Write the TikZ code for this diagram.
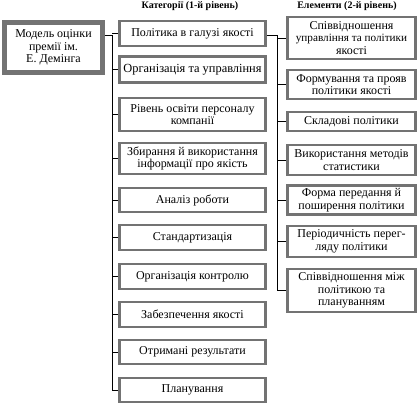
\documentclass[tikz,border=0pt]{standalone}
\usepackage{fontspec}
\setmainfont{Liberation Serif}
\definecolor{bordergray}{RGB}{115,115,115}
\begin{document}
\begin{tikzpicture}[x=1pt,y=-1pt,
  txt/.style={font=\fontsize{12}{12.5}\selectfont, align=center, inner sep=0pt},
  catbox/.style={txt, draw=bordergray, line width=2.6pt, fill=white, minimum width=146pt},
  elbox/.style={txt, draw=bordergray, line width=2.6pt, fill=white, minimum width=128pt},
  mainbox/.style={txt, draw=bordergray, line width=4.5pt, fill=white, minimum width=98pt, minimum height=50pt},
  title/.style={font=\fontsize{10}{12}\selectfont\bfseries, inner sep=0pt},
  conn/.style={draw=black, line width=0.8pt}]
\useasboundingbox (0,0) rectangle (420,405);

\node[title] (t1) at (190,6) {Категорії (1-й рівень)};
\node[title] (t2) at (347,6) {Елементи (2-й рівень)};

\node[mainbox] (m) at (53.5,47.5) {Модель оцінки\\премії ім.\\Е. Демінга};

\node[catbox, minimum height=25pt] (c1) at (192.5,33.5) {Політика в галузі якості};
\node[catbox, minimum height=26pt] (c2) at (192.5,69.5) {\fontsize{12.4}{13}\selectfont Організація та управління};
\node[catbox, minimum height=33pt] (c3) at (192.5,114.5) {Рівень освіти персоналу\\компанії};
\node[catbox, minimum height=31pt] (c4) at (192.5,158.5) {Збирання й використання\\інформації про якість};
\node[catbox, minimum height=24pt] (c5) at (192.5,200) {Аналіз роботи};
\node[catbox, minimum height=25pt] (c6) at (192.5,237.5) {Стандартизація};
\node[catbox, minimum height=25pt] (c7) at (192.5,276.5) {Організація контролю};
\node[catbox, minimum height=25pt] (c8) at (192.5,314.5) {Забезпечення якості};
\node[catbox, minimum height=24pt] (c9) at (192.5,352) {Отримані результати};
\node[catbox, minimum height=24pt] (c10) at (192.5,390) {Планування};

\node[elbox, minimum height=42pt] (e1) at (351.5,38) {Співвідношення\\{\fontsize{11.2}{12.5}\selectfont управління та політики}\\якості};
\node[elbox, minimum height=29pt] (e2) at (351.5,84.5) {Формування та прояв\\політики якості};
\node[elbox, minimum height=19pt] (e3) at (351.5,121.5) {Складові політики};
\node[elbox, minimum height=30pt] (e4) at (351.5,160) {Використання методів\\статистики};
\node[elbox, minimum height=29pt] (e5) at (351.5,200) {Форма передання й\\поширення політики};
\node[elbox, minimum height=31pt] (e6) at (351.5,241.5) {Періодичність перег-\\ляду політики};
\node[elbox, minimum height=43pt] (e7) at (351.5,290.5) {Співвідношення між\\політикою та\\плануванням};

\coordinate (ta) at (112,35);
\coordinate (tb) at (277,35);

% main box to first-level trunk
\draw[conn] (m.east |- ta) -- (ta);
\draw[conn] (ta) -- (ta |- c10.west);
\foreach \i in {1,...,10} {
  \draw[conn] (ta |- c\i.west) -- (c\i.west);
}

% category 1 to second-level trunk
\draw[conn] (c1.east |- tb) -- (tb);
\draw[conn] (tb) -- (tb |- e7.west);
\foreach \i in {1,...,7} {
  \draw[conn] (tb |- e\i.west) -- (e\i.west);
}
\end{tikzpicture}
\end{document}
